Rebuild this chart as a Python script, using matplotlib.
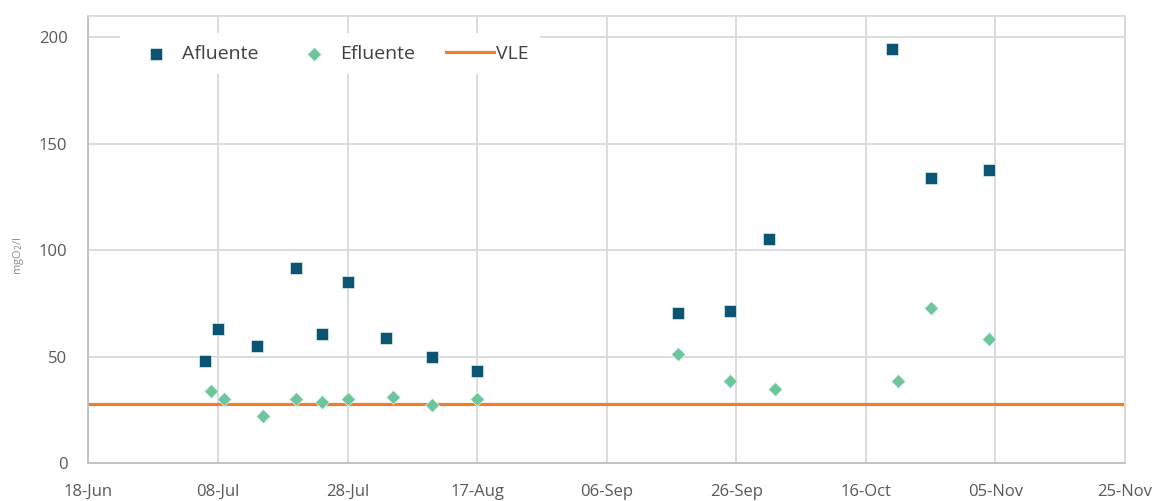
import matplotlib
matplotlib.use("Agg")
import matplotlib.pyplot as plt
import matplotlib.dates as mdates
import pandas as pd

plt.rcParams['font.family'] = ['Open Sans', 'DejaVu Sans']

# sampling dates and measured values (mgO2/l)
afluente_dates = ['2021-07-06', '2021-07-08', '2021-07-14', '2021-07-20', '2021-07-24',
                  '2021-07-28', '2021-08-03', '2021-08-10', '2021-08-17', '2021-09-17',
                  '2021-09-25', '2021-10-01', '2021-10-20', '2021-10-26', '2021-11-04']
afluente = [48.0, 62.9, 55.0, 91.9, 60.8, 85.2, 58.9, 50.0, 43.3, 70.5, 71.4, 105.5,
            194.3, 133.8, 137.7]

efluente_dates = ['2021-07-07', '2021-07-09', '2021-07-15', '2021-07-20', '2021-07-24',
                  '2021-07-28', '2021-08-04', '2021-08-10', '2021-08-17', '2021-09-17',
                  '2021-09-25', '2021-10-02', '2021-10-21', '2021-10-26', '2021-11-04']
efluente = [33.9, 30.2, 22.2, 30.3, 28.8, 30.3, 31.2, 27.2, 30.2, 51.4, 38.7, 34.8,
            38.7, 73.0, 58.2]

vle = 28
x_start, x_end = '2021-06-18', '2021-11-25'

afl_x = pd.to_datetime(afluente_dates)
efl_x = pd.to_datetime(efluente_dates)
x0, x1 = pd.Timestamp(x_start), pd.Timestamp(x_end)

fig = plt.figure(figsize=(11.58, 5.01), dpi=100)
ax = fig.add_axes([0.0763, 0.0753, 0.8952, 0.8927])

ax.scatter(afl_x, afluente, marker='s', s=85, color='#0B5572', edgecolor='#dfeef2',
           linewidth=0.5, label='Afluente', zorder=3)
ax.scatter(efl_x, efluente, marker='D', s=50, color='#6DC69B', edgecolor='#e6f5ec',
           linewidth=0.5, label='Efluente', zorder=3)
ax.plot([x0, x1], [vle, vle], color='#ED7D31', linewidth=2.3, label='VLE', zorder=2)

ax.set_xlim(x0, x1)
ax.set_ylim(0, 210)
ax.set_yticks([0, 50, 100, 150, 200])
ax.set_xticks(pd.date_range(x0, x1, freq='20D'))
ax.xaxis.set_major_formatter(mdates.DateFormatter('%d-%b'))

ax.grid(True, color='#D9D9D9', linewidth=1.3, zorder=0)
ax.set_axisbelow(True)
for side in ['top', 'right']:
    ax.spines[side].set_color('#D9D9D9')
    ax.spines[side].set_linewidth(1.3)
for side in ['left', 'bottom']:
    ax.spines[side].set_color('#BFBFBF')
    ax.spines[side].set_linewidth(1.3)

ax.tick_params(axis='both', length=0, labelsize=12, labelcolor='#595959')
ax.tick_params(axis='x', pad=15)
ax.tick_params(axis='y', pad=15)

fig.text(0.016, 0.49, 'mgO$_2$/l', rotation=90, ha='center', va='center',
         fontsize=8, color='#8C8C8C')

leg = ax.legend(loc='upper left', bbox_to_anchor=(0.031, 0.962), ncol=3,
                frameon=True, fontsize=14, handletextpad=0.1, columnspacing=1.6,
                handlelength=2.47, borderpad=0.6, borderaxespad=0)
leg.get_frame().set_facecolor('white')
leg.get_frame().set_edgecolor('none')
leg.get_frame().set_alpha(1)
for t in leg.get_texts():
    t.set_color('#404040')

fig.savefig('out.png', dpi=100)
